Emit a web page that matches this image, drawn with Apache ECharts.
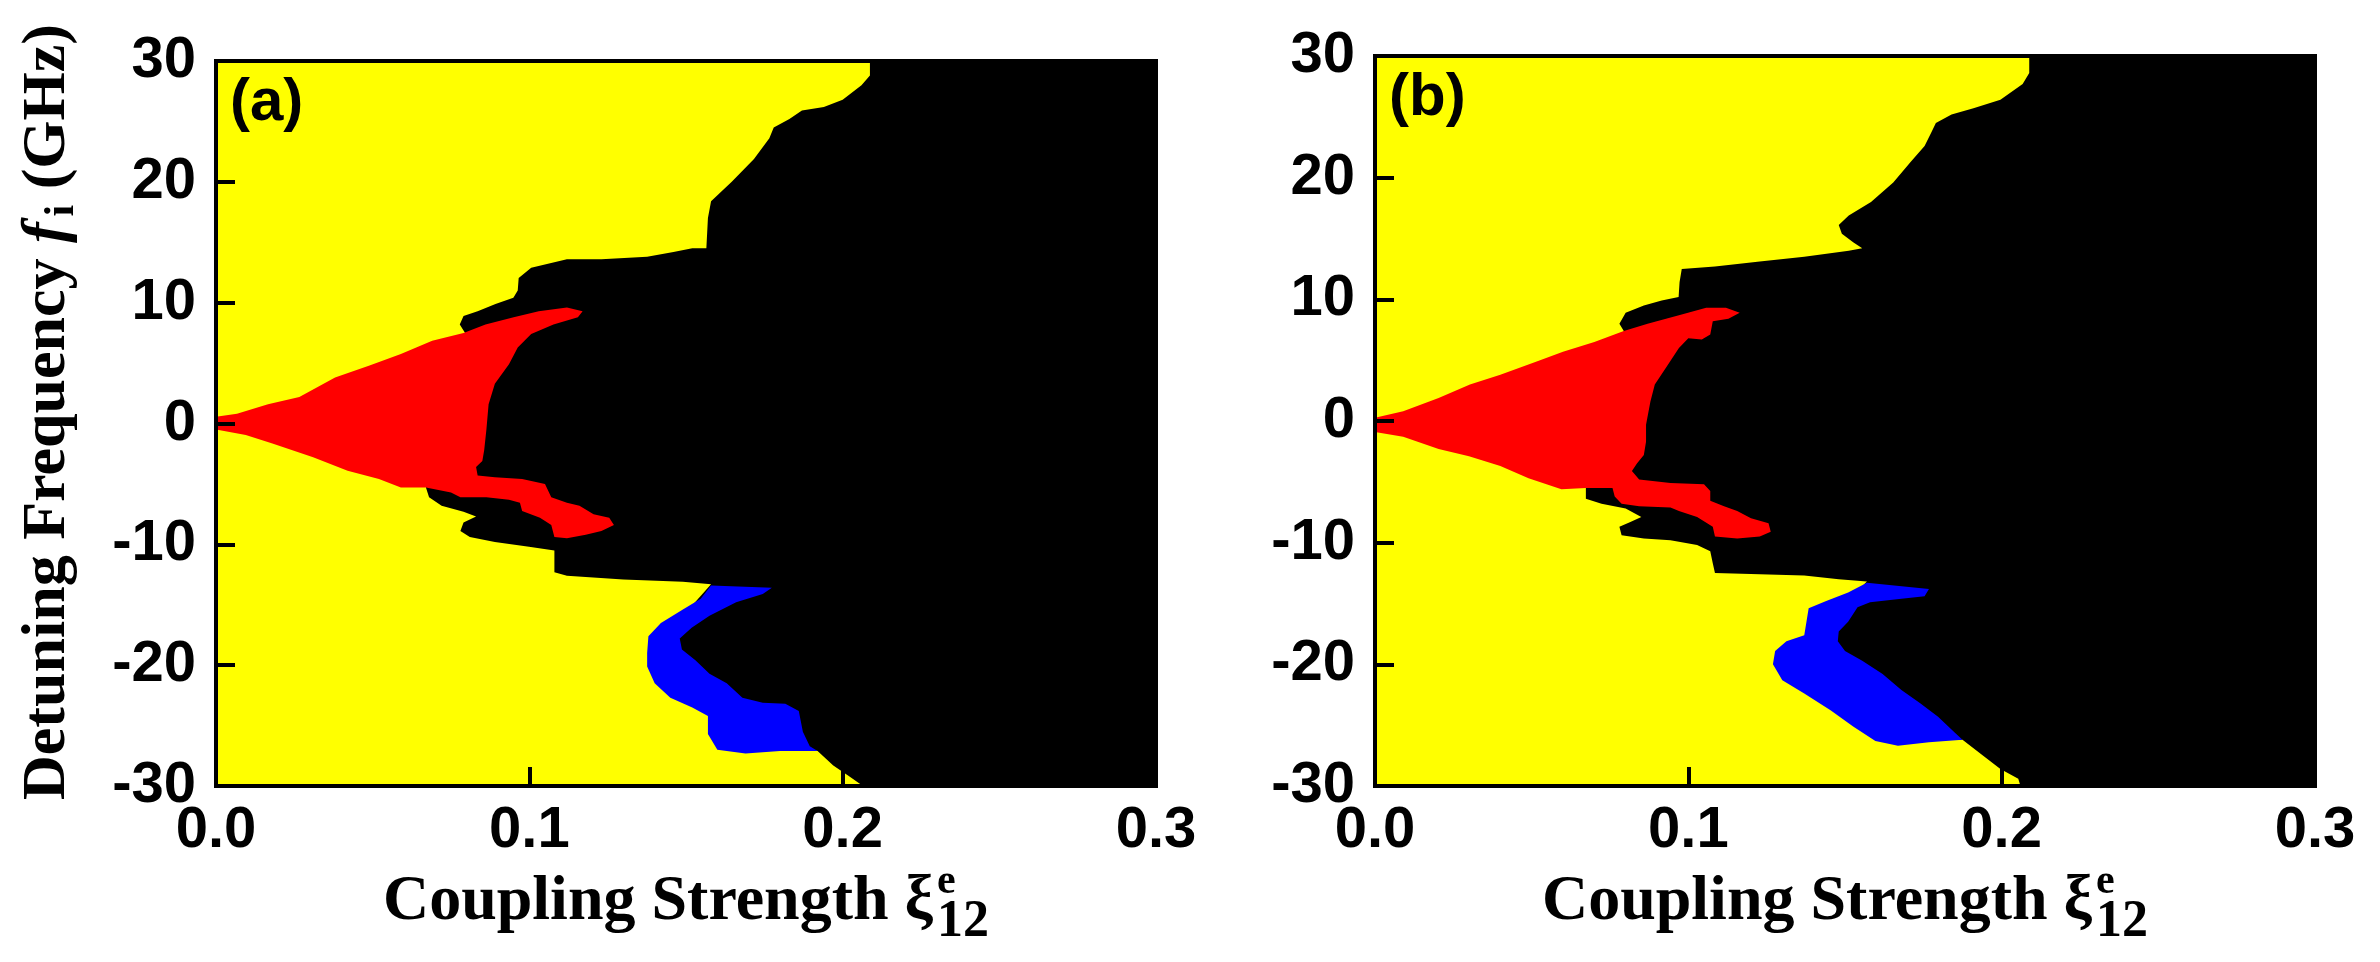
<!DOCTYPE html>
<html>
<head>
<meta charset="utf-8">
<script src="https://cdn.jsdelivr.net/npm/echarts@6/dist/echarts.min.js"></script>
<style>
  html, body { margin: 0; padding: 0; background: #fff; }
  #chart { width: 2380px; height: 962px; }
</style>
</head>
<body>
<div id="chart"></div>
<script>
// axis extents / ticks
const xRange = [0, 0.3]
const yRange = [-30, 30]
const xStep = 0.1
const yStep = 10
const panelLabels = ['(a)', '(b)']

// ---- panel (a) ----
// left edge of the black region, top -> bottom (runs through the red / blue patches)
const blackEdgeA = [
  [0.2087, 30], [0.2087, 28.8], [0.206, 28], [0.200, 26.8], [0.194, 26.2], [0.187, 25.9],
  [0.183, 25.2], [0.178, 24.5], [0.1766, 23.6], [0.1717, 21.9], [0.1646, 20], [0.158, 18.4],
  [0.157, 17], [0.1565, 14.5], [0.152, 14.5], [0.146, 14.2], [0.1376, 13.8], [0.123, 13.6],
  [0.112, 13.6], [0.1006, 12.9], [0.0966, 12.05], [0.0963, 11], [0.0949, 10.4], [0.0892, 9.9],
  [0.0835, 9.3], [0.079, 8.9], [0.0778, 8.2], [0.0795, 7.5],
  [0.075, 0], [0.067, -5.3],
  [0.068, -6.1], [0.072, -6.8], [0.079, -7.3], [0.083, -7.7], [0.079, -8.2], [0.078, -8.9],
  [0.081, -9.4], [0.089, -9.8], [0.0999, -10.2], [0.108, -10.5], [0.108, -11.5], [0.108, -12.3],
  [0.112, -12.6], [0.130, -12.9], [0.149, -13.1], [0.158, -13.3],
  [0.147, -16.5], [0.145, -19], [0.151, -21.5], [0.164, -23.5], [0.172, -25.5], [0.185, -26.8],
  [0.192, -27.1], [0.197, -28.3], [0.2016, -29.1], [0.2065, -30]
]
const redA = [
  [0, 0.55], [0.0067, 0.8], [0.0166, 1.6], [0.0266, 2.2], [0.038, 3.8], [0.049, 4.8],
  [0.059, 5.75], [0.069, 6.85], [0.079, 7.5], [0.086, 8.2], [0.095, 8.8], [0.103, 9.3],
  [0.112, 9.6], [0.117, 9.3], [0.1155, 8.8], [0.1077, 8.2], [0.1006, 7.4], [0.0963, 6.3],
  [0.0935, 4.9], [0.089, 3.3], [0.087, 1.6], [0.0863, -0.5], [0.0856, -2.2], [0.085, -3.1],
  [0.083, -3.6], [0.0835, -4.3], [0.089, -4.45], [0.0977, -4.6], [0.105, -5.0], [0.107, -6.1],
  [0.112, -6.55], [0.116, -6.8], [0.1205, -7.5], [0.1255, -7.8], [0.127, -8.4], [0.123, -8.9],
  [0.118, -9.2], [0.112, -9.5], [0.108, -9.4], [0.107, -8.4], [0.1034, -7.8], [0.0977, -7.25],
  [0.097, -6.55], [0.0935, -6.3], [0.0863, -6.1], [0.078, -6.1], [0.075, -5.7], [0.067, -5.3],
  [0.059, -5.3], [0.052, -4.6], [0.042, -3.9], [0.031, -2.8], [0.018, -1.65], [0.0095, -0.95],
  [0, -0.5]
]
const blueA = [
  [0.158, -13.4], [0.1547, -14.5], [0.149, -15.4], [0.142, -16.5], [0.138, -17.6], [0.1376, -19.0],
  [0.1376, -20.1], [0.140, -21.5], [0.145, -22.7], [0.152, -23.5], [0.157, -24.2], [0.157, -25.7],
  [0.160, -27.0], [0.169, -27.3], [0.180, -27.1], [0.192, -27.1],
  [0.1895, -26.7], [0.1873, -25.5], [0.186, -23.8], [0.1817, -23.2], [0.1745, -23.1], [0.168, -22.7],
  [0.163, -21.5], [0.1575, -20.7], [0.153, -19.6], [0.1487, -18.7], [0.148, -17.8], [0.1518, -16.9],
  [0.1575, -15.9], [0.166, -14.8], [0.1745, -14.1], [0.1774, -13.6]
]

// ---- panel (b) ----
const blackEdgeB = [
  [0.2088, 30], [0.2088, 28.6], [0.2067, 27.7], [0.1996, 26.4], [0.191, 25.7], [0.184, 25.2],
  [0.179, 24.5], [0.1775, 23.7], [0.1754, 22.6], [0.171, 21.3], [0.1654, 19.6], [0.1583, 18.0],
  [0.1512, 16.9], [0.148, 16.1], [0.149, 15.4], [0.1526, 14.7], [0.1555, 14.2], [0.1512, 14.0],
  [0.137, 13.5], [0.1228, 13.1], [0.1085, 12.7], [0.0979, 12.5], [0.0972, 11.4], [0.0969, 10.2],
  [0.0915, 9.9], [0.0858, 9.5], [0.080, 8.9], [0.078, 8.0], [0.0794, 7.4],
  [0.076, 0], [0.0673, -5.5],
  [0.0673, -6.4], [0.0723, -6.8], [0.080, -7.2], [0.085, -7.9], [0.0815, -8.3], [0.078, -8.7],
  [0.0787, -9.4], [0.0858, -9.65], [0.0943, -9.8], [0.1028, -10.2], [0.107, -10.7], [0.1078, -11.7],
  [0.1085, -12.5], [0.1228, -12.6], [0.137, -12.7], [0.148, -13.0], [0.157, -13.2],
  [0.150, -15], [0.143, -17.5], [0.142, -20], [0.153, -22.4], [0.164, -24.3], [0.175, -26],
  [0.1875, -26.2], [0.194, -27.5], [0.1996, -28.6], [0.2053, -29.4], [0.206, -30]
]
const redB = [
  [0, 0.27], [0.009, 0.8], [0.0203, 1.9], [0.0303, 3.0], [0.040, 3.8], [0.0516, 4.9],
  [0.060, 5.7], [0.070, 6.5], [0.0794, 7.4], [0.087, 8.0], [0.097, 8.7], [0.1057, 9.3],
  [0.112, 9.3], [0.1164, 8.9], [0.1128, 8.4], [0.1078, 8.2], [0.107, 7.1], [0.1043, 6.7],
  [0.100, 6.8], [0.097, 6.0], [0.0929, 4.4], [0.0893, 3.0], [0.0879, 1.6], [0.0865, -0.3],
  [0.0865, -1.7], [0.0858, -2.8], [0.0836, -3.5], [0.082, -4.1], [0.0843, -4.8], [0.0943, -5.1],
  [0.105, -5.2], [0.107, -5.75], [0.107, -6.55], [0.1114, -7.0], [0.1156, -7.4], [0.12, -8.0],
  [0.1256, -8.4], [0.1263, -9.1], [0.1228, -9.5], [0.1156, -9.65], [0.1085, -9.5], [0.1078, -8.7],
  [0.1028, -7.9], [0.097, -7.4], [0.0943, -7.1], [0.0843, -7.0], [0.0787, -6.8], [0.0765, -6.2],
  [0.0758, -5.5], [0.0673, -5.5], [0.0595, -5.6], [0.049, -4.7], [0.040, -3.7], [0.030, -2.9],
  [0.0203, -2.3], [0.009, -1.3], [0, -0.9]
]
const blueB = [
  [0.157, -13.3], [0.151, -14.1], [0.144, -14.8], [0.1384, -15.4], [0.1377, -16.5], [0.137, -17.6],
  [0.1313, -18.1], [0.1277, -18.9], [0.127, -20.0], [0.130, -21.3], [0.137, -22.4], [0.1455, -23.8],
  [0.1526, -25.1], [0.1597, -26.3], [0.1669, -26.7], [0.1768, -26.4], [0.1875, -26.2],
  [0.185, -25.6], [0.1797, -24.3], [0.174, -23.2], [0.168, -22.1], [0.162, -20.8], [0.1555, -19.7],
  [0.150, -18.9], [0.1477, -18.1], [0.148, -17.3], [0.151, -16.5], [0.154, -15.3], [0.158, -14.9],
  [0.168, -14.6], [0.1754, -14.4], [0.1768, -13.8]
]

const panels = [
  { black: blackEdgeA, red: redA, blue: blueA },
  { black: blackEdgeB, red: redB, blue: blueB },
]

const grids = [
  { left: 216, top: 61, width: 940, height: 725 },
  { left: 1375, top: 56, width: 940, height: 730 },
]

const SANS = '"Liberation Sans", Arial, sans-serif'
const SERIF = '"Liberation Serif", "Times New Roman", serif'

const chart = echarts.init(document.getElementById('chart'))

// canvas for measuring title pieces
const measureCtx = document.createElement('canvas').getContext('2d')
function fontOf(p) {
  return (p.italic ? 'italic ' : '') + 'bold ' + p.size + 'px ' + SERIF
}
function titleChildren(parts) {
  let total = 0
  parts.forEach(p => {
    measureCtx.font = fontOf(p)
    p.w = measureCtx.measureText(p.text).width
    if (p.advance !== false) total += p.w + (p.gap || 0)
  })
  let x = -total / 2
  return parts.map(p => {
    const el = {
      type: 'text',
      x: x,
      y: p.dy || 0,
      style: { text: p.text, font: fontOf(p), fill: '#000', align: 'left', verticalAlign: 'middle' },
    }
    if (p.advance !== false) x += p.w + (p.gap || 0)
    return el
  })
}

// one polygon drawn from all points of a custom series
function polygonItem(color) {
  return function (params, api) {
    if (params.dataIndexInside !== 0) return null
    const pts = []
    for (let i = 0; i < params.dataInsideLength; i++) {
      pts.push(api.coord([api.value(0, i), api.value(1, i)]))
    }
    return { type: 'polygon', shape: { points: pts }, style: { fill: color } }
  }
}

const grid = [], xAxis = [], yAxis = [], series = [], graphic = []

grids.forEach((g, i) => {
  grid.push(Object.assign({
    show: true, backgroundColor: '#ffff00', borderColor: '#000', borderWidth: 4,
  }, g))
  xAxis.push({
    type: 'value', gridIndex: i, min: xRange[0], max: xRange[1], interval: xStep, z: 10,
    splitLine: { show: false },
    axisLine: { show: true, onZero: false, lineStyle: { color: '#000', width: 4 } },
    axisTick: { show: true, inside: true, length: 19, lineStyle: { color: '#000', width: 4 } },
    axisLabel: {
      margin: 16, color: '#000', fontFamily: SANS, fontWeight: 'bold', fontSize: 58,
      formatter: v => v.toFixed(1),
    },
  })
  yAxis.push({
    type: 'value', gridIndex: i, min: yRange[0], max: yRange[1], interval: yStep, z: 10,
    splitLine: { show: false },
    axisLine: { show: true, onZero: false, lineStyle: { color: '#000', width: 4 } },
    axisTick: { show: true, inside: true, length: 19, lineStyle: { color: '#000', width: 4 } },
    axisLabel: { margin: 20, color: '#000', fontFamily: SANS, fontWeight: 'bold', fontSize: 58 },
  })

  const p = panels[i]
  const layers = [
    ['#000000', p.black.concat([[xRange[1], yRange[0]], [xRange[1], yRange[1]]])],
    ['#ff0000', p.red],
    ['#0000ff', p.blue],
  ]
  layers.forEach(([color, pts], k) => {
    series.push({
      type: 'custom', xAxisIndex: i, yAxisIndex: i, clip: true, z: 2 + k,
      renderItem: polygonItem(color),
      data: pts,
      silent: true,
    })
  })

  // panel label
  graphic.push({
    type: 'text', left: g.left + 14, top: g.top + 12, z: 20,
    style: { text: panelLabels[i], font: 'bold 60px ' + SANS, fill: '#000' },
  })

  // x-axis title: Coupling Strength ξ^e_12
  graphic.push({
    type: 'group', x: g.left + g.width / 2, y: 902, z: 20,
    children: titleChildren([
      { text: 'Coupling Strength ξ', size: 64, gap: 4 },
      { text: 'e', size: 42, dy: -20, advance: false },
      { text: '12', size: 52, dy: 21 },
    ]),
  })
})

// y-axis title on the left panel
graphic.push({
  type: 'group', x: 48, y: 412, rotation: Math.PI / 2, z: 20,
  children: titleChildren([
    { text: 'Detuning Frequency ', size: 62 },
    { text: 'f', size: 62, italic: true, gap: 6 },
    { text: 'i', size: 42, dy: 14 },
    { text: ' (GHz)', size: 62 },
  ]),
})

chart.setOption({
  animation: false,
  backgroundColor: '#fff',
  grid, xAxis, yAxis, series,
  graphic: { elements: graphic },
})
</script>
</body>
</html>
